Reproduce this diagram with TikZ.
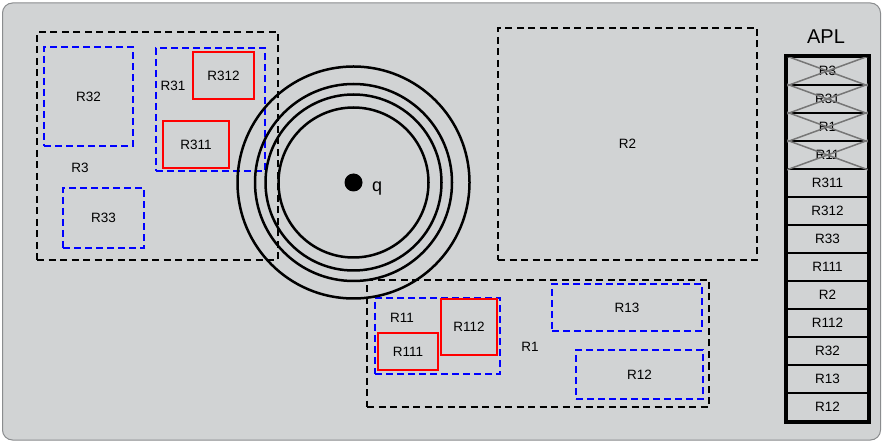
\documentclass[tikz,border=0pt]{standalone}
\usepackage{fontspec}
\setmainfont{Liberation Sans}
\definecolor{bgc}{HTML}{D1D3D4}
\definecolor{bdc}{HTML}{8A8C8E}
\definecolor{xgray}{HTML}{767676}
\tikzset{
  lbl/.style={font=\fontsize{13.5}{15}\selectfont, inner sep=0pt},
  blkbox/.style={draw=black, line width=2.6pt, dash pattern=on 7pt off 4.5pt, inner sep=0pt, lbl},
  blbox/.style={draw=blue, line width=2.6pt, dash pattern=on 7pt off 4pt, inner sep=0pt, lbl},
  redbox/.style={draw=red, line width=2.8pt, inner sep=0pt, lbl},
  ring/.style={circle, draw=black, line width=2.5pt, inner sep=0pt},
  cell/.style={draw=black, line width=2.4pt, minimum width=81pt, minimum height=28pt, inner sep=0pt, lbl},
  cross/.style={draw=xgray, line width=1.5pt}
}
\begin{document}
\begin{tikzpicture}[x=1pt,y=-1pt]
\path[use as bounding box] (0,0) rectangle (883,443);
\draw[fill=bgc, draw=bdc, line width=1pt, rounded corners=10pt] (2.5,3) rectangle (880.5,440);

% R3 group
\node[blkbox, minimum width=241pt, minimum height=228pt] (R3) at (157.5,146) {};
\node[lbl] (R3l) at (80,168) {R3};
\node[blbox, minimum width=89pt, minimum height=99pt] (R32) at (88.5,96.5) {R32};
\node[blbox, minimum width=109pt, minimum height=123pt] (R31) at (210.5,109.5) {};
\node[lbl] (R31l) at (173,86) {R31};
\node[redbox, minimum width=61pt, minimum height=47pt] (R312) at (223.5,75.5) {R312};
\node[redbox, minimum width=66pt, minimum height=47pt] (R311) at (196,144.5) {R311};
\node[blbox, minimum width=81pt, minimum height=60pt] (R33) at (103.5,218) {R33};

% R2
\node[blkbox, minimum width=259pt, minimum height=232pt] (R2) at (627.5,144) {R2};

% R1 group
\node[blkbox, minimum width=342pt, minimum height=127pt] (R1) at (538,343.5) {};
\node[lbl] (R1l) at (530,347) {R1};
\node[blbox, minimum width=125pt, minimum height=76pt] (R11) at (437.5,336) {};
\node[lbl] (R11l) at (402,318) {R11};
\node[redbox, minimum width=56pt, minimum height=56pt] (R112) at (469,327) {R112};
\node[redbox, minimum width=60pt, minimum height=37pt] (R111) at (408,351.5) {R111};
\node[blbox, minimum width=150pt, minimum height=47pt] (R13) at (627,307.5) {R13};
\node[blbox, minimum width=127pt, minimum height=49pt] (R12) at (639.5,374.5) {R12};

% rings and charge
\node[ring, minimum size=232pt] (c1) at (353.5,182.5) {};
\node[ring, minimum size=197pt] (c2) at (353.5,182.5) {};
\node[ring, minimum size=176pt] (c3) at (353.5,182.5) {};
\node[ring, minimum size=150pt] (c4) at (353.5,182.5) {};
\node[circle, fill=black, minimum size=18pt, inner sep=0pt] (q) at (353.5,182.5) {};
\node[lbl, font=\fontsize{18}{20}\selectfont, anchor=west] (ql) at (372,189) {q};

% APL table
\node[lbl, font=\fontsize{20}{22}\selectfont] (apl) at (826,37) {APL};
\foreach \n [count=\i from 0] in {R3,R31,R1,R11,R311,R312,R33,R111,R2,R112,R32,R13,R12}{
  \node[cell] (t\i) at (827.5,{71+28*\i}) {\n};
}
\foreach \i in {0,1,2,3}{
  \draw[cross] (t\i.north west) -- (t\i.south east);
  \draw[cross] (t\i.south west) -- (t\i.north east);
}
\draw[line width=2.8pt] (t0.north west) rectangle (t12.south east);
\end{tikzpicture}
\end{document}
